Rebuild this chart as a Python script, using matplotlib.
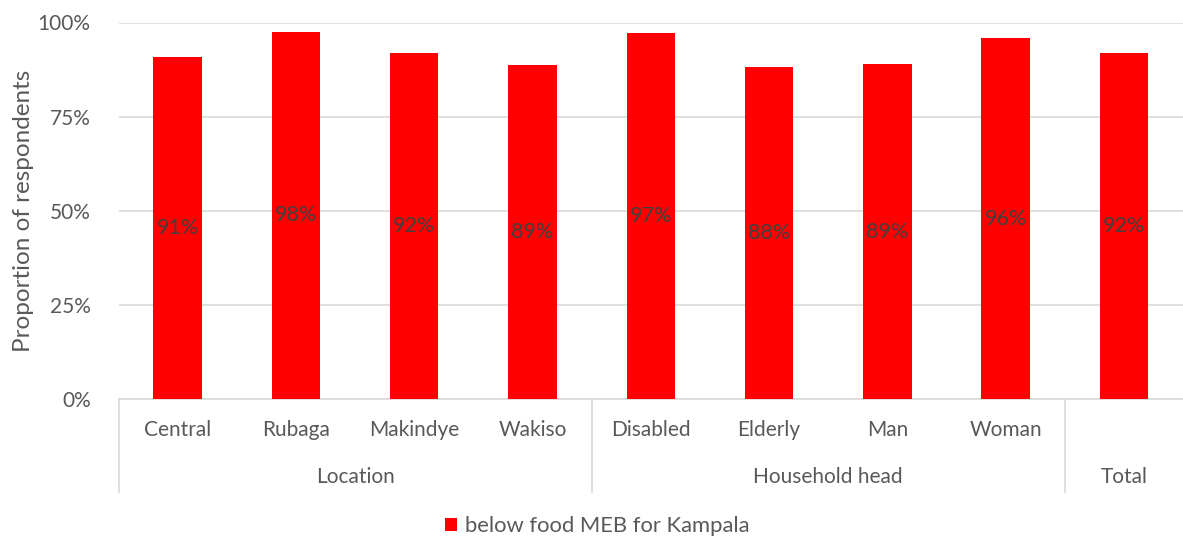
import matplotlib
matplotlib.use("Agg")
import matplotlib.pyplot as plt
import matplotlib.transforms as mtransforms
from matplotlib.ticker import FuncFormatter, MultipleLocator

categories = ["Central", "Rubaga", "Makindye", "Wakiso", "Disabled", "Elderly", "Man", "Woman", ""]
groups = ["Location", "Household head", "Total"]
group_sizes = [4, 4, 1]
values = [90.8, 97.6, 91.8, 88.8, 97.2, 88.3, 88.9, 95.8, 91.9]
series_name = "below food MEB for Kampala"

plt.rcParams['font.family'] = ['Lato', 'DejaVu Sans']
FS = 15
TXT = "#595959"

fig = plt.figure(figsize=(11.83, 5.4), dpi=100)
ax = fig.add_axes([118.5 / 1183, 1 - 399 / 540, 1 - 118.5 / 1183, (399 - 22.5) / 540])

x = list(range(len(categories)))
bars = ax.bar(x, values, width=0.41, color="#ff0000", zorder=3, label=series_name)
for xi, v in zip(x, values):
    ax.text(xi, v / 2, f"{v:.0f}%", ha="center", va="center", fontsize=FS + 0.5, color="#404040", zorder=4)

ax.set_xlim(-0.5, len(categories) - 0.5)
ax.set_ylim(0, 100)
ax.yaxis.set_major_locator(MultipleLocator(25))
ax.yaxis.set_major_formatter(FuncFormatter(lambda v, p: f"{v:.0f}%"))
ax.grid(axis="y", color="#d9d9d9", linewidth=1.2, zorder=0)
for s in ["top", "right", "left"]:
    ax.spines[s].set_visible(False)
ax.spines["bottom"].set_color("#d9d9d9")
ax.spines["bottom"].set_linewidth(1.2)
ax.tick_params(axis="y", length=0, labelsize=FS, labelcolor=TXT, pad=20)
ax.tick_params(axis="x", length=0, labelbottom=False)
ax.set_ylabel("Proportion of respondents", fontsize=17.5, color=TXT, labelpad=3)

trans = mtransforms.blended_transform_factory(ax.transData, ax.transAxes)
for xi, c in zip(x, categories):
    ax.text(xi, -0.082, c, transform=trans, ha="center", va="center", fontsize=FS, color=TXT)

start = 0
bounds = [-0.5]
for g, n in zip(groups, group_sizes):
    center = start + (n - 1) / 2
    ax.text(center, -0.207, g, transform=trans, ha="center", va="center", fontsize=FS, color=TXT)
    start += n
    bounds.append(start - 0.5)
for b in bounds[:-1]:
    ax.plot([b, b], [0, -0.247], transform=trans, color="#d9d9d9", linewidth=1.2, clip_on=False)

fig.legend(handles=[bars], labels=[series_name], loc="center", bbox_to_anchor=(0.505, 0.026),
           frameon=False, fontsize=15.8, labelcolor=TXT, handlelength=0.55, handleheight=0.55,
           handletextpad=0.35)

fig.savefig("out.png", dpi=100)
